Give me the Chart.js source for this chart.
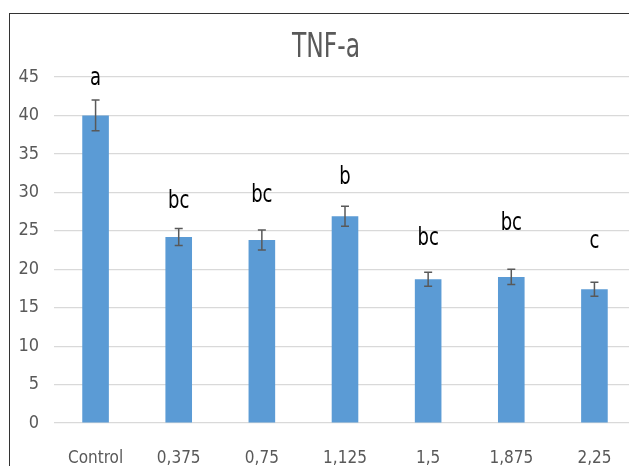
<!DOCTYPE html>
<html>
<head>
<meta charset="utf-8">
<script src="https://cdn.jsdelivr.net/npm/chart.js@4"></script>
<style>
    html, body { margin: 0; padding: 0; background: #fff; overflow: hidden; }
    #frame {
        position: absolute; left: 9px; top: 13px;
        border-left: 1px solid #333; border-top: 1px solid #333;
        width: 640px; height: 470px;
    }
</style>
</head>
<body>
<div id="frame"><canvas id="tnfChart" width="640" height="464"></canvas></div>
<script>
// chart data
var categories = ['Control', '0,375', '0,75', '1,125', '1,5', '1,875', '2,25'];
var meanValues = [40.0, 24.2, 23.8, 26.9, 18.7, 19.0, 17.4];
var errValues = [2.0, 1.1, 1.3, 1.3, 0.9, 1.0, 0.9];
var letters = ['a', 'bc', 'bc', 'b', 'bc', 'bc', 'c'];
var letterLevels = [43.9, 28.0, 28.7, 31.1, 23.1, 25.1, 22.8];
var yTicks = [0, 5, 10, 15, 20, 25, 30, 35, 40, 45];

var FONT = '"Liberation Sans Narrow", "DejaVu Sans Condensed", "Liberation Sans", sans-serif';

// error bars, letters and the title
var extrasPlugin = {
    id: 'extras',
    afterDatasetsDraw: function (chart) {
        var ctx = chart.ctx;
        var x = chart.scales.x;
        var y = chart.scales.y;
        ctx.save();
        ctx.strokeStyle = '#595959';
        ctx.lineWidth = 1.5;
        meanValues.forEach(function (v, i) {
            var cx = x.getPixelForValue(i);
            var top = y.getPixelForValue(v + errValues[i]);
            var bot = y.getPixelForValue(v - errValues[i]);
            ctx.beginPath();
            ctx.moveTo(cx, top); ctx.lineTo(cx, bot);
            ctx.moveTo(cx - 4, top); ctx.lineTo(cx + 4, top);
            ctx.moveTo(cx - 4, bot); ctx.lineTo(cx + 4, bot);
            ctx.stroke();
        });
        // significance letters
        ctx.fillStyle = '#000';
        ctx.textAlign = 'center';
        ctx.textBaseline = 'alphabetic';
        letters.forEach(function (t, i) {
            var cx = x.getPixelForValue(i);
            var by = y.getPixelForValue(letterLevels[i]);
            ctx.save();
            ctx.translate(cx, by);
            ctx.scale(1, 1.2);
            ctx.font = '20px ' + FONT;
            ctx.fillText(t, 0, 0);
            ctx.restore();
        });
        // title
        ctx.fillStyle = '#595959';
        ctx.save();
        ctx.translate(316, 43);
        ctx.scale(1, 1.3);
        ctx.font = '26px ' + FONT;
        ctx.fillText('TNF-a', 0, 0);
        ctx.restore();
        ctx.restore();
    }
};

new Chart(document.getElementById('tnfChart'), {
    type: 'bar',
    data: {
        labels: categories,
        datasets: [{
            data: meanValues,
            backgroundColor: '#5b9bd5',
            borderWidth: 0,
            barPercentage: 0.32,
            categoryPercentage: 1.0
        }]
    },
    options: {
        responsive: false,
        animation: false,
        layout: { padding: { top: 63, right: 14, left: 0, bottom: 0 } },
        plugins: {
            legend: { display: false },
            tooltip: { enabled: false },
            title: { display: false }
        },
        scales: {
            x: {
                grid: { display: false, drawTicks: false },
                border: { display: false },
                ticks: {
                    color: '#595959',
                    font: { family: FONT, size: 17 },
                    padding: 25,
                    maxRotation: 0
                },
                afterFit: function (axis) { axis.height = 55; }
            },
            y: {
                min: 0,
                max: 45,
                grid: { color: '#d9d9d9', lineWidth: 1.2, drawTicks: false },
                border: { display: false },
                afterBuildTicks: function (axis) {
                    axis.ticks = yTicks.map(function (v) { return { value: v }; });
                },
                ticks: {
                    color: '#595959',
                    font: { family: FONT, size: 18 },
                    padding: 15
                },
                afterFit: function (axis) { axis.width = 44; }
            }
        }
    },
    plugins: [extrasPlugin]
});
</script>
</body>
</html>
